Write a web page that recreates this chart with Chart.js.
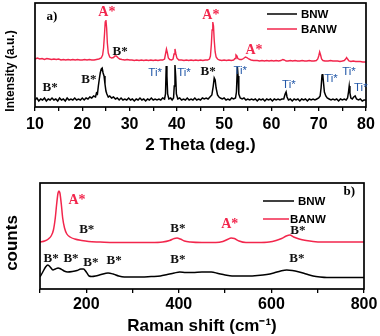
<!DOCTYPE html>
<html>
<head>
<meta charset="utf-8">
<script src="https://cdn.jsdelivr.net/npm/chart.js@4.4.1/dist/chart.umd.min.js"></script>
<style>
  body { margin: 0; background: #fff; }
  #wrap { position: relative; width: 380px; height: 336px; }
  canvas { position: absolute; left: 0; }
  #xrd { top: 0; }
  #raman { top: 160px; }
</style>
</head>
<body>
<div id="wrap">
  <canvas id="xrd" width="380" height="160" style="width:380px;height:160px"></canvas>
  <canvas id="raman" width="380" height="176" style="width:380px;height:176px"></canvas>
</div>
<script>
const RED = '#f2264c';
const BLUE = '#2358a8';
const SERIF = "'Liberation Serif', 'Times New Roman', serif";
const SANS = "'Liberation Sans', Arial, sans-serif";

// XRD patterns: 2 theta (deg) and intensity (a.u.)
const bnwTheta = [10.0, 10.4, 10.8, 11.2, 11.6, 12.0, 12.4, 12.8, 13.2, 13.6, 14.0, 14.4, 14.8, 15.2, 15.6, 16.0, 16.4, 16.8, 17.2, 17.6,
  18.0, 18.4, 18.8, 19.2, 19.6, 20.0, 20.4, 20.8, 21.2, 21.6, 22.0, 22.4, 22.8, 23.0, 23.2, 23.4, 23.6, 23.8, 24.0, 24.2,
  24.4, 24.6, 24.8, 25.0, 25.2, 25.5, 25.8, 26.2, 26.6, 27.0, 27.4, 27.8, 28.2, 28.6, 29.0, 29.4, 29.8, 30.2, 30.6, 31.0,
  31.4, 31.8, 32.2, 32.6, 33.0, 33.4, 33.8, 34.2, 34.6, 35.0, 35.4, 35.8, 36.2, 36.6, 37.0, 37.4, 37.6, 37.75, 37.9, 38.05,
  38.3, 38.7, 39.0, 39.3, 39.45, 39.6, 39.75, 39.9, 40.2, 40.6, 41.0, 41.4, 41.8, 42.2, 42.6, 43.0, 43.4, 43.8, 44.2, 44.6,
  45.0, 45.4, 45.8, 46.2, 46.6, 47.0, 47.4, 47.7, 47.9, 48.1, 48.3, 48.6, 48.9, 49.2, 49.6, 50.0, 50.4, 50.8, 51.2, 51.6,
  52.0, 52.4, 52.6, 52.8, 52.95, 53.1, 53.4, 53.8, 54.2, 54.6, 55.0, 55.4, 55.8, 56.2, 56.6, 57.0, 57.4, 57.8, 58.2, 58.6,
  59.0, 59.4, 59.8, 60.2, 60.6, 61.0, 61.4, 61.8, 62.2, 62.6, 62.9, 63.1, 63.3, 63.6, 64.0, 64.4, 64.8, 65.2, 65.6, 66.0,
  66.4, 66.8, 67.2, 67.6, 68.0, 68.4, 68.8, 69.2, 69.6, 70.0, 70.3, 70.5, 70.7, 70.85, 71.0, 71.2, 71.5, 71.8, 72.2, 72.6,
  73.0, 73.4, 73.8, 74.2, 74.6, 75.0, 75.4, 75.8, 76.1, 76.3, 76.45, 76.6, 76.8, 77.1, 77.4, 77.7, 78.0, 78.4, 78.8, 79.2,
  79.6, 80.0];
const bnwXrd = [6, 8, 5, 7, 6, 8, 5, 7, 6, 8, 6, 7, 5, 8, 6, 7, 5, 8, 6, 7,
  6, 8, 6, 7, 6, 8, 6, 8, 7, 9, 8, 10, 9, 13, 12, 20, 27, 33, 37, 38,
  33, 30, 22, 15, 12, 9, 10, 8, 9, 7, 8, 6, 8, 6, 7, 6, 8, 6, 7, 5,
  7, 6, 8, 6, 7, 5, 7, 6, 8, 6, 7, 6, 7, 6, 8, 7, 12, 40, 30, 12,
  7, 8, 6, 8, 20, 41, 30, 12, 7, 8, 6, 7, 6, 8, 6, 7, 6, 8, 6, 7,
  6, 8, 7, 8, 7, 9, 11, 20, 28, 26, 18, 11, 9, 8, 7, 8, 6, 7, 6, 8,
  7, 8, 14, 39, 30, 12, 8, 7, 8, 6, 7, 6, 7, 6, 7, 5, 7, 6, 7, 5,
  7, 6, 7, 5, 7, 6, 7, 6, 7, 7, 12, 14, 9, 6, 7, 5, 7, 6, 7, 5,
  7, 6, 7, 5, 7, 6, 7, 6, 7, 8, 10, 18, 31, 32, 24, 14, 10, 8, 7, 6,
  7, 6, 7, 5, 7, 6, 7, 6, 8, 14, 20, 13, 8, 7, 9, 10, 7, 6, 7, 5,
  6, 6];

const banwTheta = [10.0, 10.5, 11.0, 11.5, 12.0, 12.5, 13.0, 13.5, 14.0, 14.5, 15.0, 15.5, 16.0, 16.5, 17.0, 17.5, 18.0, 18.5, 19.0, 19.5,
  20.0, 20.5, 21.0, 21.5, 22.0, 22.5, 23.0, 23.5, 24.0, 24.3, 24.5, 24.7, 24.85, 25.0, 25.15, 25.3, 25.5, 25.8, 26.2, 26.6,
  26.9, 27.2, 27.5, 27.9, 28.4, 29.0, 29.5, 30.0, 30.5, 31.0, 31.5, 32.0, 32.5, 33.0, 33.5, 34.0, 34.5, 35.0, 35.5, 36.0,
  36.5, 37.0, 37.4, 37.6, 37.8, 38.0, 38.2, 38.5, 38.9, 39.2, 39.4, 39.6, 39.8, 40.0, 40.4, 41.0, 41.5, 42.0, 42.5, 43.0,
  43.5, 44.0, 44.5, 45.0, 45.5, 46.0, 46.5, 46.9, 47.1, 47.3, 47.45, 47.6, 47.75, 47.9, 48.1, 48.3, 48.6, 49.0, 49.5, 50.0,
  50.5, 51.0, 51.5, 52.0, 52.3, 52.5, 52.7, 52.9, 53.3, 53.7, 54.1, 54.5, 54.8, 55.2, 55.7, 56.2, 57.0, 57.5, 58.0, 58.5,
  59.0, 59.5, 60.0, 60.5, 61.0, 61.5, 62.0, 62.4, 62.7, 63.1, 63.5, 64.0, 64.5, 65.0, 65.5, 66.0, 66.5, 67.0, 67.5, 68.0,
  68.5, 69.0, 69.5, 69.8, 70.0, 70.2, 70.4, 70.6, 70.9, 71.3, 72.0, 72.5, 73.0, 73.5, 74.0, 74.5, 75.0, 75.4, 75.7, 75.9,
  76.1, 76.4, 76.8, 77.3, 77.8, 78.3, 78.8, 79.3, 80.0];
const banwXrd = [47, 48, 47, 47.5, 46.5, 47.5, 47, 46.5, 47, 46.5, 47, 46, 46.5, 46, 46.5, 46, 46.5, 46, 46.5, 46,
  46, 46.5, 46, 46.5, 46, 46, 46.5, 47, 48, 51, 58, 72, 84, 86, 78, 63, 53, 49, 48, 48.5,
  50, 50, 48.5, 47, 46.5, 46, 46.5, 46, 46, 45.5, 46, 45.5, 46, 45.5, 46, 45.5, 46, 45.5, 46, 45.5,
  46, 46, 47, 52, 57, 53, 48, 46.5, 46, 47, 52, 57, 52, 48, 46, 46, 45.5, 46, 45.5, 46,
  45.5, 46, 45.5, 46, 45.5, 46, 46, 47, 50, 62, 76, 84, 80, 66, 54, 49, 47, 46, 45.5, 46,
  45.5, 46, 45.5, 46, 47.5, 51, 50, 47.5, 46.5, 46.5, 47.5, 49, 48.5, 47, 46, 45.5, 45.5, 45, 45.5, 45,
  45.5, 45, 45.5, 45, 45.5, 45, 45.5, 46.5, 46, 45, 45, 45.5, 45, 45.5, 45, 45, 45.5, 45, 45, 45.5,
  45, 45, 45.5, 47, 50, 54, 51, 47, 45.5, 45, 45, 45.5, 45, 45, 45, 44.5, 45, 45.5, 47, 48.5,
  47, 45, 44.5, 45, 44.5, 44.5, 44.5, 44, 44];

// Raman spectra: shift (cm-1) and counts
const bnwShift = [100, 106, 112, 117, 122, 128, 133, 139, 145, 152, 160, 170, 180, 188, 194, 200, 206, 212, 220, 232,
  247, 258, 270, 282, 300, 320, 340, 360, 375, 390, 402, 415, 430, 450, 470, 485, 500, 515, 530, 550,
  570, 590, 605, 620, 633, 645, 660, 675, 690, 705, 720, 750, 780, 800];
const bnwRaman = [11, 16, 21, 23, 21, 18, 19, 20, 19, 17, 16, 16.5, 17.5, 19, 19, 16, 12, 11.5, 12, 13.5,
  15, 14, 12, 11, 11, 11, 11.5, 12, 13.5, 15, 16, 15.5, 15.5, 16, 16, 14.5, 13, 12, 12, 12,
  12.5, 13.5, 15, 17, 18, 17.5, 16, 14, 12, 11, 10.5, 10.5, 10.5, 10.5];

const banwShift = [100, 110, 118, 124, 129, 133, 136, 139, 141, 143, 146, 149, 153, 158, 165, 175, 190, 205, 230, 260,
  300, 340, 365, 380, 390, 396, 403, 412, 425, 450, 480, 495, 505, 513, 520, 530, 545, 570, 595, 610,
  622, 632, 640, 648, 660, 675, 690, 710, 740, 770, 800];
const banwRaman = [46, 47, 49, 52, 58, 70, 84, 95, 97, 95, 84, 70, 60, 54, 51, 49, 47.5, 46.5, 46, 45.5,
  45.5, 45.5, 46, 47.5, 49.5, 50, 49, 47, 46, 45.5, 45.5, 46.5, 48.5, 50, 49.5, 47, 45.5, 45.5, 46, 47.5,
  49.5, 52, 53, 51, 49, 47.5, 46.5, 46, 46, 46, 46];

// labelled ticks on each x axis
const xrdTicks = [10, 20, 30, 40, 50, 60, 70, 80];
const ramanTicks = [200, 400, 600, 800];

// phase labels placed in data coordinates
const xrdMarks = [
  { x: 13.6, y: 89, text: 'a)', kind: 'tag' },
  { x: 25.2, y: 94, text: 'A*', kind: 'A' },
  { x: 47.2, y: 91, text: 'A*', kind: 'A' },
  { x: 56.3, y: 56, text: 'A*', kind: 'A' },
  { x: 28.0, y: 54, text: 'B*', kind: 'B' },
  { x: 13.2, y: 18, text: 'B*', kind: 'B' },
  { x: 21.4, y: 26, text: 'B*', kind: 'B' },
  { x: 46.6, y: 34, text: 'B*', kind: 'B' },
  { x: 35.4, y: 33, text: 'Ti*', kind: 'Ti' },
  { x: 41.5, y: 33, text: 'Ti*', kind: 'Ti' },
  { x: 53.4, y: 35, text: 'Ti*', kind: 'Ti' },
  { x: 63.7, y: 21, text: 'Ti*', kind: 'Ti' },
  { x: 72.6, y: 27, text: 'Ti*', kind: 'Ti' },
  { x: 76.4, y: 34, text: 'Ti*', kind: 'Ti' },
  { x: 78.9, y: 18, text: 'Ti*', kind: 'Ti' }
];
const ramanMarks = [
  { x: 768, y: 96, text: 'b)', kind: 'tag' },
  { x: 180, y: 88, text: 'A*', kind: 'A' },
  { x: 510, y: 64, text: 'A*', kind: 'A' },
  { x: 201, y: 58, text: 'B*', kind: 'B' },
  { x: 398, y: 59, text: 'B*', kind: 'B' },
  { x: 657, y: 57, text: 'B*', kind: 'B' },
  { x: 124, y: 29, text: 'B*', kind: 'B' },
  { x: 167, y: 29, text: 'B*', kind: 'B' },
  { x: 210, y: 25, text: 'B*', kind: 'B' },
  { x: 260, y: 27, text: 'B*', kind: 'B' },
  { x: 398, y: 28, text: 'B*', kind: 'B' },
  { x: 655, y: 29, text: 'B*', kind: 'B' }
];

const markStyle = {
  tag: { font: 'bold 13px ' + SERIF, color: '#000' },
  A: { font: 'bold 14px ' + SERIF, color: RED },
  B: { font: 'bold 13px ' + SERIF, color: '#111' },
  Ti: { font: '11.5px ' + SANS, color: BLUE }
};

const pts = (xs, ys) => xs.map((x, i) => ({ x, y: ys[i] }));

// frame, peak labels, legend and y title drawn on top of the chart
const panelDecor = {
  id: 'panelDecor',
  afterDraw(chart, args, opts) {
    const { ctx, chartArea: a, scales: { x, y } } = chart;
    ctx.save();
    ctx.strokeStyle = '#000';
    ctx.lineWidth = 1.7;
    ctx.strokeRect(a.left, a.top, a.right - a.left, a.bottom - a.top);

    ctx.textAlign = 'center';
    ctx.textBaseline = 'middle';
    opts.marks.forEach(m => {
      const s = markStyle[m.kind];
      ctx.font = s.font;
      ctx.fillStyle = s.color;
      ctx.fillText(m.text, x.getPixelForValue(m.x), y.getPixelForValue(m.y));
    });

    ctx.textAlign = 'left';
    ctx.font = 'bold 11.5px ' + SANS;
    opts.legend.forEach((item, i) => {
      const ds = chart.data.datasets[i];
      ctx.strokeStyle = ds.borderColor;
      ctx.lineWidth = 1.5;
      ctx.beginPath();
      ctx.moveTo(item.x0, item.y);
      ctx.lineTo(item.x1, item.y);
      ctx.stroke();
      ctx.fillStyle = '#000';
      ctx.fillText(ds.label, item.tx, item.y + 1);
    });

    const t = opts.yTitle;
    ctx.translate(t.x, t.y);
    ctx.rotate(-Math.PI / 2);
    ctx.textAlign = 'center';
    ctx.font = t.font;
    ctx.fillStyle = '#000';
    ctx.fillText(t.text, 0, 0);
    ctx.restore();
  }
};

Chart.defaults.font.family = SANS;
Chart.defaults.color = '#000';

function xAxis(min, max, step, labelled, title, tickPad, titlePad, height) {
  return {
    type: 'linear',
    min, max,
    border: { display: false },
    grid: { drawOnChartArea: false, drawTicks: true, tickLength: 4, color: '#000', lineWidth: 1.3 },
    ticks: {
      stepSize: step,
      autoSkip: false,
      maxRotation: 0,
      padding: tickPad,
      font: { size: 16, weight: 'bold' },
      callback: v => labelled.includes(v) ? v : ''
    },
    title: { display: true, text: title, font: { size: 17, weight: 'bold', lineHeight: 1 }, padding: { top: 0, bottom: titlePad } },
    afterFit(scale) { scale.height = height; }
  };
}

new Chart(document.getElementById('xrd'), {
  type: 'line',
  data: {
    datasets: [
      { label: 'BNW', data: pts(bnwTheta, bnwXrd), borderColor: '#000', borderWidth: 1.5 },
      { label: 'BANW', data: pts(banwTheta, banwXrd), borderColor: RED, borderWidth: 1.4 }
    ]
  },
  options: {
    responsive: false,
    animation: false,
    devicePixelRatio: 1,
    layout: { padding: { left: 35, right: 14, top: 3, bottom: 0 } },
    elements: { point: { radius: 0 }, line: { tension: 0 } },
    scales: {
      x: xAxis(10, 80, 5, xrdTicks, '2 Theta (deg.)', 4, 6, 53),
      y: { display: false, min: -1, max: 103 }
    },
    plugins: {
      legend: { display: false },
      tooltip: { enabled: false },
      panelDecor: {
        marks: xrdMarks,
        legend: [{ x0: 267, x1: 297, y: 14, tx: 301 }, { x0: 267, x1: 297, y: 29, tx: 301 }],
        yTitle: { text: 'Intensity (a.u.)', x: 11, y: 71, font: 'bold 12px ' + SANS }
      }
    }
  },
  plugins: [panelDecor]
});

new Chart(document.getElementById('raman'), {
  type: 'line',
  data: {
    datasets: [
      { label: 'BNW', data: pts(bnwShift, bnwRaman), borderColor: '#000', borderWidth: 1.5 },
      { label: 'BANW', data: pts(banwShift, banwRaman), borderColor: RED, borderWidth: 1.5 }
    ]
  },
  options: {
    responsive: false,
    animation: false,
    devicePixelRatio: 1,
    layout: { padding: { left: 40, right: 16, top: 23, bottom: 0 } },
    elements: { point: { radius: 0 }, line: { cubicInterpolationMode: 'monotone' } },
    scales: {
      x: xAxis(100, 800, 100, ramanTicks, 'Raman shift (cm\u207B\u00B9)', 2, 1, 47),
      y: { display: false, min: -1, max: 105 }
    },
    plugins: {
      legend: { display: false },
      tooltip: { enabled: false },
      panelDecor: {
        marks: ramanMarks,
        legend: [{ x0: 263, x1: 294, y: 41, tx: 298 }, { x0: 263, x1: 289, y: 59, tx: 290 }],
        yTitle: { text: 'counts', x: 12, y: 83, font: 'bold 17px ' + SANS }
      }
    }
  },
  plugins: [panelDecor]
});
</script>
</body>
</html>
